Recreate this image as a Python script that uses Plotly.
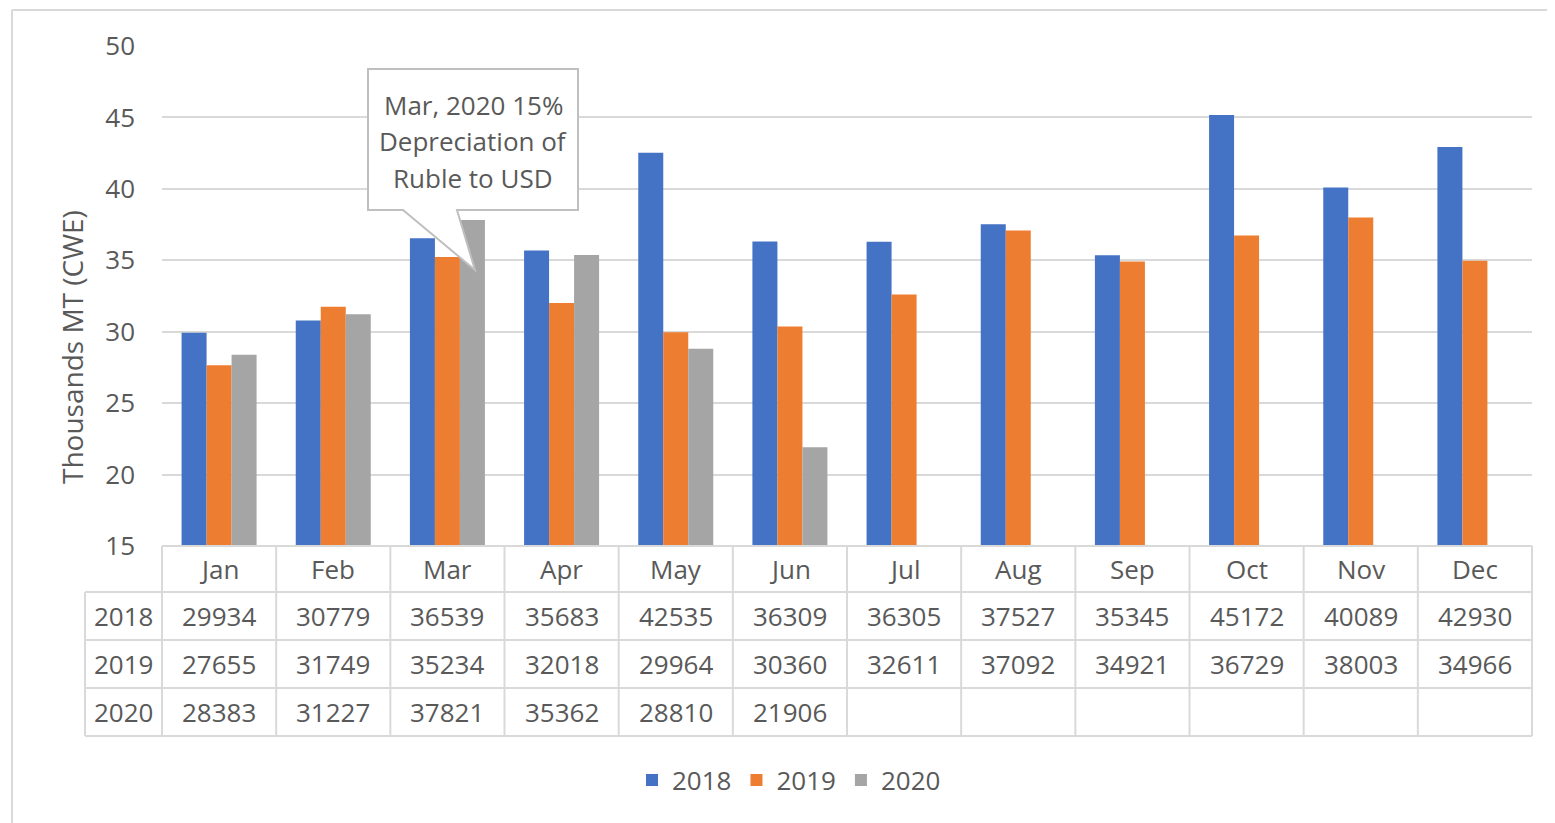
import plotly.graph_objects as go

months = ["Jan", "Feb", "Mar", "Apr", "May", "Jun", "Jul", "Aug", "Sep", "Oct", "Nov", "Dec"]
years = ["2018", "2019", "2020"]
v2018 = [29934, 30779, 36539, 35683, 42535, 36309, 36305, 37527, 35345, 45172, 40089, 42930]
v2019 = [27655, 31749, 35234, 32018, 29964, 30360, 32611, 37092, 34921, 36729, 38003, 34966]
v2020 = [28383, 31227, 37821, 35362, 28810, 21906, None, None, None, None, None, None]
series = [v2018, v2019, v2020]
colors = ["#4472C4", "#ED7D31", "#A5A5A5"]
y_ticks = [15, 20, 25, 30, 35, 40, 45, 50]
y_title = "Thousands MT (CWE)"
callout_lines = ["Mar, 2020 15%", "Depreciation of", "Ruble to USD"]

OFF = 8  # page body margin
PAGE_W, PAGE_H = 1555, 823
W, H = PAGE_W - OFF, PAGE_H - OFF
# plot area in page pixels
X0, X1, Y0, Y1 = 162, 1532, 46, 546
L, R, T, B = X0 - OFF, W - (X1 - OFF), Y0 - OFF, H - (Y1 - OFF)
PW, PH = X1 - X0, Y1 - Y0

def px(x):
    return (x - X0) / PW

def py(y):
    return (Y1 - y) / PH

FONT = "Open Sans"
TXT = "#595959"
GRID = "#D9D9D9"
FS = 26

fig = go.Figure()
for name, vals, col in zip(years, series, colors):
    fig.add_trace(go.Bar(
        x=months,
        y=[None if v is None else v / 1000 for v in vals],
        name=name,
        marker=dict(color=col, line=dict(width=0)),
    ))

shapes = []
annotations = []

def txt(x, y, s, size=FS, **kw):
    d = dict(x=x, y=y, xref="paper", yref="paper", text=s, showarrow=False,
             xanchor="center", yanchor="middle", font=dict(family=FONT, size=size, color=TXT))
    d.update(kw)
    annotations.append(d)

# data table
row_tops = [546, 592, 640, 688, 736]
left_x = px(85)
n = len(months)
shapes.append(dict(type="line", xref="paper", yref="paper", x0=0, x1=1,
                   y0=py(row_tops[0]), y1=py(row_tops[0]), line=dict(color=GRID, width=2)))
for yy in row_tops[1:]:
    shapes.append(dict(type="line", xref="paper", yref="paper", x0=left_x, x1=1,
                       y0=py(yy), y1=py(yy), line=dict(color=GRID, width=2)))
for i in range(n + 1):
    shapes.append(dict(type="line", xref="paper", yref="paper", x0=i / n, x1=i / n,
                       y0=py(row_tops[0]), y1=py(row_tops[-1]), line=dict(color=GRID, width=2)))
shapes.append(dict(type="line", xref="paper", yref="paper", x0=left_x, x1=left_x,
                   y0=py(row_tops[1]), y1=py(row_tops[-1]), line=dict(color=GRID, width=2)))

def row_center(k):
    return py((row_tops[k] + row_tops[k + 1]) / 2)

for i, m in enumerate(months):
    txt((i + 0.5) / n, row_center(0), m)
for r, (name, vals) in enumerate(zip(years, series)):
    txt(left_x / 2, row_center(r + 1), name)
    for i, v in enumerate(vals):
        if v is None:
            continue
        txt((i + 0.5) / n, row_center(r + 1), str(v))

# y axis title
txt(px(72), py(347), y_title, size=28, textangle=-90)

# callout
pts = [(368, 69), (578, 69), (578, 210), (457, 210), (475, 270), (403, 210), (368, 210)]
path = "M " + " L ".join(f"{px(a):.5f},{py(b):.5f}" for a, b in pts) + " Z"
shapes.append(dict(type="path", xref="paper", yref="paper", path=path,
                   fillcolor="white", line=dict(color="#BFBFBF", width=2), layer="above"))
for k, line in enumerate(callout_lines):
    txt(px(473), py(105 + 36.5 * k), line, size=26)

# outer frame
shapes.append(dict(type="line", xref="paper", yref="paper", x0=px(12), x1=px(12),
                   y0=py(10), y1=py(PAGE_H + 5), line=dict(color=GRID, width=2)))
shapes.append(dict(type="line", xref="paper", yref="paper", x0=px(12), x1=px(PAGE_W + 5),
                   y0=py(10), y1=py(10), line=dict(color=GRID, width=2)))

fig.update_layout(
    width=W, height=H,
    margin=dict(l=L, r=R, t=T, b=B),
    paper_bgcolor="white", plot_bgcolor="white",
    barmode="group", bargap=0.343, bargroupgap=0,
    font=dict(family=FONT, size=FS, color=TXT),
    showlegend=True,
    legend=dict(orientation="h", x=px(789), xanchor="center", y=py(780), yanchor="middle",
                font=dict(family=FONT, size=FS, color=TXT), traceorder="normal"),
    xaxis=dict(range=[-0.5, n - 0.5], showticklabels=False, showgrid=False, zeroline=False,
               showline=False, ticks=""),
    yaxis=dict(range=[y_ticks[0], y_ticks[-1]], tickvals=y_ticks, showgrid=True, gridcolor=GRID,
               gridwidth=2, zeroline=False, showline=False, ticks="", ticklabelstandoff=26,
               tickfont=dict(family=FONT, size=FS, color=TXT)),
    shapes=shapes,
    annotations=annotations,
)

fig.write_html("out.html")
